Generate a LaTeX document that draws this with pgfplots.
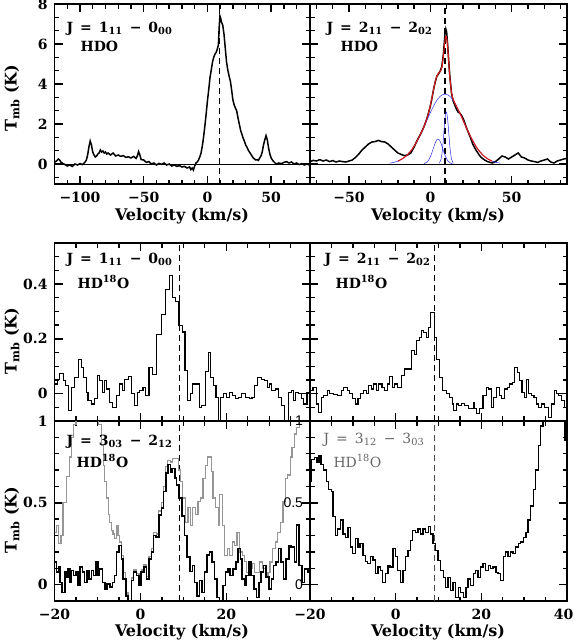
\documentclass[border=0pt]{standalone}
\usepackage{fontspec}
\setmainfont{DejaVu Serif}
\setsansfont{Liberation Sans}
\usepackage{pgfplots}
\pgfplotsset{compat=1.18}
\definecolor{fitred}{RGB}{215,25,25}
\definecolor{gaussblue}{RGB}{45,45,235}
\definecolor{specgray}{RGB}{150,150,150}

\newcommand{\lab}{\fontsize{16}{16}\selectfont\bfseries}
\newcommand{\jfont}{\fontsize{14}{14}\selectfont\bfseries}
\newcommand{\gap}{\,\,\,}
% inward tick marks on both sides: list, low edge, high edge, length
\newcommand{\ticksx}[4]{\pgfplotsinvokeforeach{#1}{\draw[black, line width=1.4pt]
  (axis cs:##1,#2) -- ++(0pt,#4) (axis cs:##1,#3) -- ++(0pt,-#4);}}
\newcommand{\ticksy}[4]{\pgfplotsinvokeforeach{#1}{\draw[black, line width=1.4pt]
  (axis cs:#2,##1) -- ++(#4,0pt) (axis cs:#3,##1) -- ++(-#4,0pt);}}

\pgfplotsset{
  panel/.style={
    scale only axis, anchor=north west,
    line width=1.3pt,
    tick style={black, line width=1.4pt},
    major tick length=8pt, minor tick length=4.5pt,
    tick align=inside, xtick pos=both, ytick pos=both,
    tick label style={font=\fontsize{14}{14}\selectfont\bfseries},
    xticklabel style={yshift=-4pt},
    yticklabel style={xshift=-3pt},
  },
  vtop/.style={xmin=-120, xmax=80.5},
  yt/.style={ymin=-1, ymax=8, ytick={0,2,4,6,8},
    minor ytick={-0.6667,0.6667,1.3333,2.6667,3.3333,4.6667,5.3333,6.6667,7.3333}},
  ym/.style={ymin=-0.1, ymax=0.55, ytick={0,0.2,0.4},
    minor ytick={-0.1,-0.05,0.05,0.1,0.15,0.25,0.3,0.35,0.45,0.5,0.55}},
  yb/.style={ymin=-0.1, ymax=1, ytick={0,0.5,1},
    minor ytick={-0.1,0.1,0.2,0.3,0.4,0.6,0.7,0.8,0.9}},
  xs/.style={xtick={-20,0,20,40}, minor xtick={-15,-10,...,35}},
}

\begin{document}
\begin{tikzpicture}
\useasboundingbox (0pt,0pt) rectangle (575pt,-643pt);

%% ---------- top left: HDO 1_11-0_00
\begin{axis}[panel, at={(54.5pt,-4pt)}, width=255.5pt, height=180pt, vtop, yt,
  xtick={-100,-50,0,50}, xticklabels={−100,−50,0,50},
  minor xtick={-120,-110,...,80}, yticklabels={0,2,4,6,8}]
\ticksx{-100,-50,0,50}{-1}{8}{8pt}
\ticksx{-110,-90,-80,-70,-60,-40,-30,-20,-10,10,20,30,40,60,70,80}{-1}{8}{4.5pt}
\ticksy{0,2,4,6}{-120}{80.5}{8pt}
\ticksy{-0.6667,0.6667,1.3333,2.6667,3.3333,4.6667,5.3333,6.6667,7.3333}{-120}{80.5}{4.5pt}
\addplot[black, line width=0.7pt] coordinates {(-120,0)(80.5,0)};
\addplot[black, line width=1.1pt, dash pattern=on 6pt off 4pt] coordinates {(9.5,-1)(9.5,8)};
\addplot[black, line width=1.5pt] coordinates {
(-120,0.08)(-118,0.18)(-117,0.25)(-116,0.2)(-115,0.1)(-114,0.05)(-112,-0.02)(-110,-0.1)
(-108,-0.05)(-106,-0.12)(-104,0.0)(-102,-0.05)(-100,0.02)(-98,-0.03)(-96,0.1)(-95,0.2)
(-94,0.45)(-93,0.85)(-92,1.15)(-91,0.95)(-90,0.6)(-89,0.45)(-88,0.35)(-87,0.4)(-86,0.5)
(-85,0.55)(-84,0.7)(-83,0.6)(-82,0.65)(-81,0.55)(-80,0.6)(-79,0.5)(-78,0.55)(-76,0.45)
(-74,0.55)(-72,0.4)(-70,0.45)(-68,0.38)(-66,0.42)(-64,0.33)(-62,0.36)(-60,0.3)(-58,0.38)
(-56,0.28)(-55,0.4)(-54,0.62)(-53,0.45)(-52,0.22)(-50,0.2)(-48,0.08)(-46,0.12)(-44,0.0)
(-42,0.05)(-40,-0.05)(-38,0.03)(-36,-0.02)(-34,0.05)(-32,-0.05)(-30,0.0)(-28,-0.1)
(-26,-0.05)(-24,-0.12)(-22,-0.08)(-20,-0.15)(-18,-0.12)(-16,-0.2)(-14,-0.15)(-13,-0.28)
(-12,-0.2)(-11,-0.3)(-10,-0.1)(-9,0.05)(-8,0.1)(-7,0.2)(-6,0.35)(-5,0.55)(-4,0.9)
(-3,1.35)(-2,1.9)(-1,2.5)(0,3.15)(1,3.7)(2,4.3)(3,4.7)(4,5.1)(5,5.35)(6,5.5)(7,5.6)
(8,5.8)(8.6,5.95)(9.2,6.8)(9.8,7.4)(10.4,7.3)(11,7.1)(12,6.95)(13,6.5)(14,5.8)(15,5.1)
(16,4.7)(17,4.4)(18,4.15)(19,3.7)(20,3.2)(21,2.95)(22,2.8)(23,2.65)(24,2.3)(25,2.0)
(26,1.7)(27,1.5)(28,1.3)(29,1.15)(30,0.95)(31,0.85)(32,0.7)(33,0.6)(34,0.5)(35,0.4)
(36,0.3)(37,0.25)(38,0.2)(39,0.22)(40,0.18)(41,0.3)(42,0.4)(43,0.6)(44,0.95)(45,1.2)
(46,1.42)(47,1.2)(48,0.8)(49,0.5)(50,0.3)(51,0.2)(52,0.12)(54,0.0)(56,0.05)(58,0.02)
(60,0.08)(62,0.12)(64,0.05)(66,0.1)(68,0.0)(70,0.05)(72,-0.03)(74,0.02)(76,-0.05)
(78,0.0)(80,-0.05)(80.5,0.0)};
\end{axis}

%% ---------- top right: HDO 2_11-2_02
\begin{axis}[panel, at={(310pt,-4pt)}, width=257pt, height=180pt,
  xmin=-74, xmax=84, yt, yticklabels={},
  xtick={-50,0,50}, xticklabels={−50,0,50}, minor xtick={-70,-60,...,80}]
\ticksx{-50,0,50}{-1}{8}{8pt}
\ticksx{-70,-60,-40,-30,-20,-10,10,20,30,40,60,70,80}{-1}{8}{4.5pt}
\ticksy{0,2,4,6}{-74}{84}{8pt}
\ticksy{-0.6667,0.6667,1.3333,2.6667,3.3333,4.6667,5.3333,6.6667,7.3333}{-74}{84}{4.5pt}
\addplot[black, line width=0.7pt] coordinates {(-74,0)(84,0)};
\addplot[black, line width=1.1pt, dash pattern=on 6pt off 4pt] coordinates {(9,-1)(9,8)};
\addplot[black, line width=1.5pt] coordinates {
(-74,0.12)(-72,0.18)(-70,0.15)(-68,0.22)(-66,0.15)(-64,0.2)(-62,0.12)(-60,0.17)(-58,0.1)
(-56,0.15)(-54,0.12)(-52,0.1)(-50,0.15)(-48,0.2)(-46,0.33)(-44,0.5)(-42,0.7)(-40,0.85)
(-38,1.0)(-36,1.1)(-34,1.12)(-32,1.18)(-30,1.12)(-28,1.1)(-26,1.0)(-24,0.85)(-22,0.7)
(-20,0.55)(-18,0.48)(-16,0.42)(-14,0.45)(-12,0.55)(-10,0.85)(-8,1.2)(-6,1.5)(-4,1.85)
(-2,2.3)(0,2.9)(1,3.3)(2,3.75)(3,4.1)(4,4.4)(5,4.5)(6,4.65)(7,4.85)(8,5.5)(8.5,6.0)
(9,6.5)(9.5,6.75)(10,6.6)(10.5,6.1)(11,5.5)(11.5,4.9)(12,4.35)(13,3.55)(14,3.15)
(15,2.95)(16,2.75)(17,2.6)(18,2.55)(19,2.45)(20,2.3)(21,2.1)(22,1.85)(23,1.65)(24,1.45)
(25,1.25)(26,1.0)(27,0.85)(28,0.7)(29,0.58)(30,0.45)(31,0.35)(32,0.28)(33,0.22)
(34,0.17)(35,0.12)(36,0.1)(38,0.05)(40,0.12)(42,0.25)(44,0.4)(46,0.35)(48,0.25)
(50,0.35)(52,0.45)(54,0.55)(56,0.35)(58,0.3)(60,0.2)(62,0.15)(64,0.12)(66,0.08)
(68,0.15)(70,0.2)(72,0.25)(74,0.1)(76,0.05)(78,0.15)(80,0.2)(82,0.25)(84,0.28)};
% fitted gaussian components
\addplot[gaussblue, line width=0.5pt, smooth] coordinates {
(-25,0.043)(-22.5,0.080)(-20,0.143)(-17.5,0.242)(-15,0.391)(-12.5,0.603)(-10,0.887)
(-7.5,1.243)(-5,1.661)(-2.5,2.116)(0,2.572)(1.5,2.826)(3,3.052)(5,3.293)(7,3.447)
(9,3.5)(11,3.447)(13,3.293)(15,3.052)(16.5,2.826)(18,2.572)(20.5,2.116)(23,1.661)
(25.5,1.243)(28,0.887)(30.5,0.603)(33,0.391)(35.5,0.242)(38,0.143)(40.5,0.080)(43,0.043)};
\addplot[gaussblue, line width=0.5pt, smooth] coordinates {
(-4,0.017)(-2,0.099)(-1,0.199)(0,0.358)(1,0.577)(2,0.828)(3,1.061)(4,1.216)(4.7,1.25)
(5.5,1.206)(6.5,1.041)(7.5,0.802)(8.5,0.552)(9.5,0.340)(10.5,0.186)(11.5,0.092)
(12.5,0.040)(13.5,0.016)};
\addplot[gaussblue, line width=0.5pt, smooth] coordinates {
(5.5,0.040)(6.5,0.221)(7,0.441)(7.5,0.785)(8,1.249)(8.5,1.773)(9,2.249)(9.5,2.548)
(9.8,2.6)(10.1,2.548)(10.6,2.249)(11.1,1.773)(11.6,1.249)(12.1,0.785)(12.6,0.441)
(13.1,0.221)(14.1,0.040)};
\addplot[fitred, line width=1.1pt, smooth] coordinates {
(-20,0.143)(-15,0.391)(-10,0.887)(-5,1.667)(-3,2.068)(-1,2.592)(1,3.321)(2,3.733)
(3,4.113)(4,4.399)(5,4.551)(6,4.617)(7,4.815)(8,5.411)(8.5,5.822)(9,6.188)(9.5,6.385)
(10,6.319)(10.5,5.983)(11,5.456)(11.5,4.861)(12,4.312)(13,3.574)(14,3.241)(15,3.058)
(18,2.572)(20,2.209)(23,1.661)(25,1.322)(28,0.887)(30,0.654)(33,0.391)(35,0.268)(38,0.143)};
\end{axis}

%% ---------- middle left: HD18O 1_11-0_00
\begin{axis}[panel, at={(54.5pt,-243pt)}, width=255.5pt, height=178pt,
  xmin=-20, xmax=39.5, ym, xs, xticklabels={}, yticklabels={0,0.2,0.4}]
\ticksx{0,20}{-0.1}{0.55}{8pt}
\ticksx{-15,-10,-5,5,10,15,25,30,35}{-0.1}{0.55}{4.5pt}
\ticksy{0,0.2,0.4}{-20}{39.5}{8pt}
\ticksy{-0.05,0.05,0.1,0.15,0.25,0.3,0.35,0.45,0.5}{-20}{39.5}{4.5pt}
\addplot[black, line width=1pt, dash pattern=on 6pt off 4pt] coordinates {(9,-0.1)(9,0.55)};
\addplot[black, line width=1.1pt, const plot mark left] coordinates {
(-20,0.035)(-19.4,0.053)(-18.8,0.072)(-18.0,0.047)(-17.4,0.029)(-16.8,-0.062)(-16.0,0.023)
(-15.3,0.059)(-14.5,0.126)(-13.7,0.096)(-13.3,0.059)(-12.6,0.005)(-12.2,-0.025)
(-11.4,-0.038)(-10.6,-0.019)(-10.0,0.065)(-9.5,0.047)(-8.8,0.005)(-8.3,0.047)(-7.8,0.017)
(-7.1,-0.032)(-6.4,-0.05)(-5.6,-0.007)(-4.8,0.035)(-4.2,0.011)(-3.6,0.053)(-2.8,0.062)
(-2.1,-0.001)(-1.3,-0.044)(-0.7,0.005)(-0.2,0.011)(0.6,0.023)(1.2,-0.007)(2.0,0.096)
(2.8,0.07)(3.7,0.217)(4.9,0.29)(5.8,0.38)(6.8,0.43)(7.5,0.35)(8.1,0.338)(9.0,0.25)
(9.8,0.225)(10.4,0.085)(11.0,-0.025)(11.7,0.0)(12.2,0.035)(13.7,-0.05)(14.3,-0.045)
(15.1,0.08)(15.8,0.15)(16.4,0.06)(17.0,0.03)(17.6,-0.013)(18.1,-0.12)(18.7,-0.013)
(19.4,0.0)(20.1,-0.013)(20.7,0.005)(21.4,-0.007)(22.2,-0.019)(22.8,-0.013)(23.5,-0.001)
(24.4,-0.013)(25.4,-0.019)(26.0,-0.013)(26.6,0.029)(27.2,0.059)(28.2,0.053)(28.9,0.047)
(29.5,0.023)(30.0,0.035)(30.6,0.011)(31.4,0.017)(32.2,-0.013)(32.8,-0.044)(33.6,-0.12)
(34.4,0.005)(35.2,0.011)(35.7,-0.025)(36.1,0.005)(36.8,-0.001)(37.5,-0.019)(38.0,-0.038)
(38.8,0.005)(39.5,0.017)};
\end{axis}

%% ---------- middle right: HD18O 2_11-2_02
\begin{axis}[panel, at={(310pt,-243pt)}, width=257pt, height=178pt,
  xmin=-20, xmax=40, ym, xs, xticklabels={}, yticklabels={}]
\ticksx{0,20}{-0.1}{0.55}{8pt}
\ticksx{-15,-10,-5,5,10,15,25,30,35}{-0.1}{0.55}{4.5pt}
\ticksy{0,0.2,0.4}{-20}{40}{8pt}
\ticksy{-0.05,0.05,0.1,0.15,0.25,0.3,0.35,0.45,0.5}{-20}{40}{4.5pt}
\addplot[black, line width=1pt, dash pattern=on 6pt off 4pt] coordinates {(9,-0.1)(9,0.55)};
\addplot[black, line width=1.1pt, const plot mark left] coordinates {
(-20,0.011)(-19.3,0.023)(-18.5,-0.038)(-18.0,-0.068)(-17.4,-0.013)(-16.8,-0.007)
(-16.0,0.011)(-15.4,-0.001)(-14.6,-0.004)(-13.5,-0.007)(-12.7,0.011)(-12.1,0.023)
(-11.3,0.013)(-10.7,-0.001)(-10.0,-0.019)(-9.4,-0.038)(-8.8,-0.019)(-8.2,-0.001)
(-7.6,0.011)(-6.9,-0.001)(-6.3,0.029)(-5.7,0.017)(-5.1,0.035)(-4.5,0.011)(-4.0,0.035)
(-3.2,0.023)(-2.6,0.011)(-1.9,0.035)(-1.4,0.062)(-0.8,0.023)(-0.2,0.035)(0.4,0.023)
(1.3,0.065)(2.1,0.09)(3.7,0.156)(4.3,0.144)(4.9,0.193)(5.5,0.205)(6.0,0.229)(6.5,0.223)
(7.2,0.205)(7.6,0.24)(8.2,0.296)(9.1,0.205)(9.5,0.126)(10.3,0.06)(10.9,0.011)
(11.9,-0.001)(12.6,-0.013)(13.2,-0.038)(13.6,-0.062)(14.2,-0.038)(14.7,-0.044)
(15.3,-0.035)(16.1,-0.044)(16.9,-0.056)(17.5,-0.056)(18.1,-0.032)(18.5,-0.056)
(18.8,-0.074)(19.6,-0.056)(20.4,-0.007)(21.2,0.023)(21.7,0.017)(22.3,-0.05)(22.9,-0.013)
(23.5,0.023)(24.3,-0.007)(24.8,-0.019)(25.5,0.017)(26.1,0.023)(26.6,0.035)(27.2,0.041)
(27.8,0.096)(28.4,0.078)(29.0,0.047)(29.5,0.005)(30.0,-0.013)(30.5,0.053)(31.1,-0.001)
(31.7,-0.007)(32.3,-0.013)(32.9,-0.038)(33.4,-0.05)(34.0,-0.038)(34.8,-0.05)(35.6,-0.086)
(36.4,-0.038)(37.0,0.011)(37.5,-0.001)(38.1,-0.007)(38.7,-0.025)(39.5,-0.05)(40,-0.05)};
\end{axis}

%% ---------- bottom left: HD18O 3_03-2_12 (gray: second spectrum)
\begin{axis}[panel, at={(54.5pt,-421pt)}, width=255.5pt, height=180pt,
  xmin=-20, xmax=39.5, yb, xs, xticklabels={−20,0,20,40}, yticklabels={0,0.5,1}]
\ticksx{0,20}{-0.1}{1}{8pt}
\ticksx{-15,-10,-5,5,10,15,25,30,35}{-0.1}{1}{4.5pt}
\ticksy{0,0.5}{-20}{39.5}{8pt}
\ticksy{0.1,0.2,0.3,0.4,0.6,0.7,0.8,0.9}{-20}{39.5}{4.5pt}
\addplot[black, line width=1pt, dash pattern=on 6pt off 4pt] coordinates {(9,-0.1)(9,1)};
\addplot[specgray, line width=1.2pt, const plot mark left] coordinates {
(-20,0.32)(-19.5,0.36)(-19.0,0.25)(-18.5,0.3)(-18.0,0.5)(-17.2,0.66)(-16.6,0.78)
(-16.0,0.9)(-15.5,0.98)(-15.0,1.1)(-14,1.2)(-10.2,1.1)(-9.7,0.98)(-9.1,0.85)(-8.6,0.73)
(-8.3,0.63)(-7.9,0.53)(-7.5,0.43)(-7.1,0.38)(-6.7,0.33)(-6.4,0.31)(-6.0,0.28)(-5.6,0.36)
(-5.2,0.30)(-4.8,0.26)(-4.4,0.18)(-3.9,0.076)(-3.4,-0.05)(-2.9,-0.11)(-2.1,0.04)
(-1.6,0.09)(-0.9,0.07)(-0.3,0.01)(0.2,0.09)(0.8,0.12)(1.4,0.05)(2.0,0.17)(2.6,0.22)
(3.1,0.32)(3.7,0.31)(4.3,0.45)(4.9,0.5)(5.4,0.6)(5.9,0.72)(6.4,0.76)(7.0,0.75)(7.5,0.77)
(8.2,0.77)(8.8,0.7)(9.3,0.63)(9.9,0.53)(10.5,0.38)(11.1,0.47)(11.6,0.36)(12.2,0.47)
(12.9,0.43)(13.4,0.51)(14.0,0.53)(14.6,0.65)(15.2,0.73)(15.7,0.78)(16.5,0.69)(16.9,0.53)
(17.5,0.47)(18.1,0.36)(18.5,0.55)(19.1,0.36)(19.6,0.18)(20.2,0.22)(20.8,0.18)(21.4,0.26)
(21.9,0.24)(22.5,0.32)(23.1,0.2)(23.7,0.18)(24.3,0.14)(24.8,0.076)(25.4,0.097)(26.0,0.13)
(26.6,0.076)(27.1,0.076)(27.8,0.138)(28.5,0.097)(29.1,0.056)(29.7,0.076)(30.2,0.138)
(30.8,0.22)(31.5,0.26)(32.0,0.32)(32.6,0.38)(33.2,0.51)(33.8,0.65)(34.3,0.67)(34.9,0.78)
(35.3,0.84)(35.9,0.92)(36.4,0.96)(37.0,1.1)(39.5,1.1)};
\addplot[black, line width=1.6pt, const plot mark left] coordinates {
(-20,0.138)(-19.5,0.076)(-19.1,0.107)(-18.7,0.014)(-18.3,-0.047)(-17.6,0.076)(-17.2,0.045)
(-16.8,0.097)(-16.4,0.014)(-16.0,0.086)(-15.6,0.056)(-15.0,0.076)(-14.5,-0.006)
(-14.0,0.107)(-13.5,0.076)(-13.0,0.014)(-12.4,0.086)(-11.9,0.035)(-11.4,0.086)
(-10.9,0.056)(-10.4,0.138)(-9.9,0.056)(-9.5,0.097)(-8.8,0.014)(-8.3,-0.027)(-7.8,0.004)
(-7.1,-0.016)(-6.5,0.014)(-6.0,0.056)(-5.6,0.2)(-5.0,0.24)(-4.4,0.158)(-4.0,0.035)
(-3.4,-0.068)(-2.9,-0.11)(-2.1,0.025)(-1.6,0.076)(-0.9,0.056)(-0.3,-0.006)(0.2,0.076)
(0.8,0.107)(1.4,0.035)(2.0,0.158)(2.6,0.2)(3.1,0.3)(3.7,0.29)(4.3,0.426)(4.9,0.467)
(5.4,0.57)(5.9,0.683)(6.4,0.735)(7.0,0.69)(7.4,0.71)(8.0,0.65)(8.4,0.61)(9.0,0.53)
(9.7,0.42)(10.3,0.3)(10.9,0.17)(11.5,0.08)(12.1,0.117)(12.6,0.014)(13.2,-0.068)
(13.8,0.025)(14.4,-0.047)(14.9,0.076)(15.5,0.18)(16.1,0.2)(16.7,0.138)(17.3,0.035)
(17.8,-0.078)(18.4,-0.11)(19.2,-0.006)(19.8,0.076)(20.4,0.097)(20.9,0.056)(21.5,0.097)
(22.2,0.138)(22.7,0.22)(23.3,0.158)(23.7,0.035)(24.3,-0.006)(24.6,0.056)(25.3,0.138)
(25.8,0.056)(26.4,-0.027)(27.0,-0.078)(27.6,0.014)(28.1,0.076)(28.7,0.117)(29.3,0.045)
(29.9,-0.027)(30.5,0.035)(31.0,0.117)(31.6,0.138)(32.2,0.22)(32.8,0.138)(33.3,0.035)
(33.9,0.158)(34.6,0.24)(35.1,0.23)(35.9,0.138)(36.4,0.364)(37.0,0.117)(37.7,0.014)
(38.2,0.097)(39.0,0.076)(39.5,0.107)};
\end{axis}

%% ---------- bottom right: HD18O 3_12-3_03
\begin{axis}[panel, at={(310pt,-421pt)}, width=257pt, height=180pt,
  xmin=-20, xmax=40, yb, xs, xticklabels={−20,0,20,\kern-7pt{}40}, yticklabels={0,0.5,1},
  yticklabel style={font=\fontsize{14}{14}\selectfont\sffamily}]
\ticksx{0,20}{-0.1}{1}{8pt}
\ticksx{-15,-10,-5,5,10,15,25,30,35}{-0.1}{1}{4.5pt}
\ticksy{0,0.5}{-20}{40}{8pt}
\ticksy{0.1,0.2,0.3,0.4,0.6,0.7,0.8,0.9}{-20}{40}{4.5pt}
\addplot[black!70, line width=0.6pt, dash pattern=on 6pt off 4pt] coordinates {(9,-0.1)(9,1)};
\addplot[black, line width=1.3pt, const plot mark left] coordinates {
(-20,0.63)(-19.6,0.765)(-18.9,0.776)(-18.4,0.745)(-17.9,0.786)(-17.4,0.735)(-16.8,0.70)
(-16.2,0.63)(-15.6,0.58)(-15.0,0.57)(-14.6,0.415)(-14.0,0.30)(-13.5,0.34)(-12.9,0.395)
(-12.3,0.31)(-11.7,0.29)(-11.1,0.35)(-10.6,0.23)(-10.0,0.19)(-9.3,0.28)(-8.8,0.23)
(-8.3,0.25)(-7.6,0.18)(-7.1,0.14)(-6.5,0.13)(-5.9,0.17)(-5.3,0.15)(-4.7,0.066)
(-4.1,0.107)(-3.6,0.086)(-3.0,0.014)(-2.4,0.066)(-1.8,0.117)(-1.3,0.107)(-0.6,0.22)
(0.0,0.17)(0.5,0.086)(1.1,0.014)(1.7,0.086)(2.3,0.17)(2.9,0.21)(3.4,0.27)(4.0,0.33)
(4.7,0.32)(5.2,0.34)(5.8,0.31)(6.4,0.34)(7.0,0.32)(7.6,0.354)(8.1,0.31)(8.7,0.25)
(9.3,0.21)(9.9,0.148)(10.4,0.086)(11.1,0.045)(11.7,-0.016)(12.2,0.045)(12.8,-0.037)
(13.4,0.014)(14.0,-0.078)(14.6,-0.016)(15.2,-0.047)(15.8,-0.078)(16.4,-0.016)(16.9,0.035)
(17.5,-0.006)(18.1,0.066)(18.7,0.086)(19.2,0.045)(19.8,0.107)(20.4,0.128)(21.0,0.086)
(21.6,0.117)(22.1,0.097)(22.7,0.107)(23.4,0.076)(23.9,0.066)(24.5,0.025)(25.1,0.17)
(25.7,0.2)(26.2,0.17)(26.8,0.2)(27.4,0.19)(28.0,0.23)(28.6,0.25)(29.1,0.26)(29.8,0.29)
(30.4,0.32)(30.9,0.395)(31.5,0.48)(32.1,0.58)(32.7,0.70)(33.3,0.85)(33.8,0.97)
(34.4,1.1)(39.5,0.88)(40,0.88)};
\end{axis}

%% ---------- labels
\node[anchor=base west, font=\jfont] at (63pt,-32pt) {J\gap=\gap1\textsubscript{11}\gap−\gap0\textsubscript{00}};
\node[anchor=base west, font=\jfont] at (77pt,-51pt) {HDO};
\node[anchor=base west, font=\jfont] at (323pt,-32pt) {J\gap=\gap2\textsubscript{11}\gap−\gap2\textsubscript{02}};
\node[anchor=base west, font=\jfont] at (337pt,-51pt) {HDO};
\node[anchor=base west, font=\jfont] at (63pt,-263pt) {J\gap=\gap1\textsubscript{11}\gap−\gap0\textsubscript{00}};
\node[anchor=base west, font=\jfont] at (74pt,-288pt) {HD\textsuperscript{18}O};
\node[anchor=base west, font=\jfont] at (321pt,-263pt) {J\gap=\gap2\textsubscript{11}\gap−\gap2\textsubscript{02}};
\node[anchor=base west, font=\jfont] at (332pt,-288pt) {HD\textsuperscript{18}O};
\node[anchor=base west, font=\jfont] at (63pt,-445pt) {J\gap=\gap3\textsubscript{03}\gap−\gap2\textsubscript{12}};
\node[anchor=base west, font=\jfont] at (73pt,-467pt) {HD\textsuperscript{18}O};
\node[anchor=base west, font=\fontsize{14}{14}\selectfont, text=black!60] at (320pt,-443pt) {J\gap=\gap3\textsubscript{12}\gap−\gap3\textsubscript{03}};
\node[anchor=base west, font=\fontsize{14}{14}\selectfont, text=black!60] at (330pt,-467pt) {HD\textsuperscript{18}O};

\node[font=\lab] at (182pt,-216pt) {Velocity (km/s)};
\node[font=\lab] at (438pt,-216pt) {Velocity (km/s)};
\node[font=\lab] at (182pt,-632pt) {Velocity (km/s)};
\node[font=\lab] at (438pt,-632pt) {Velocity (km/s)};
\node[font=\lab, rotate=90] at (12pt,-98pt) {T\textsubscript{mb} (K)};
\node[font=\lab, rotate=90] at (12pt,-341pt) {T\textsubscript{mb} (K)};
\node[font=\lab, rotate=90] at (12pt,-520pt) {T\textsubscript{mb} (K)};
\end{tikzpicture}
\end{document}
